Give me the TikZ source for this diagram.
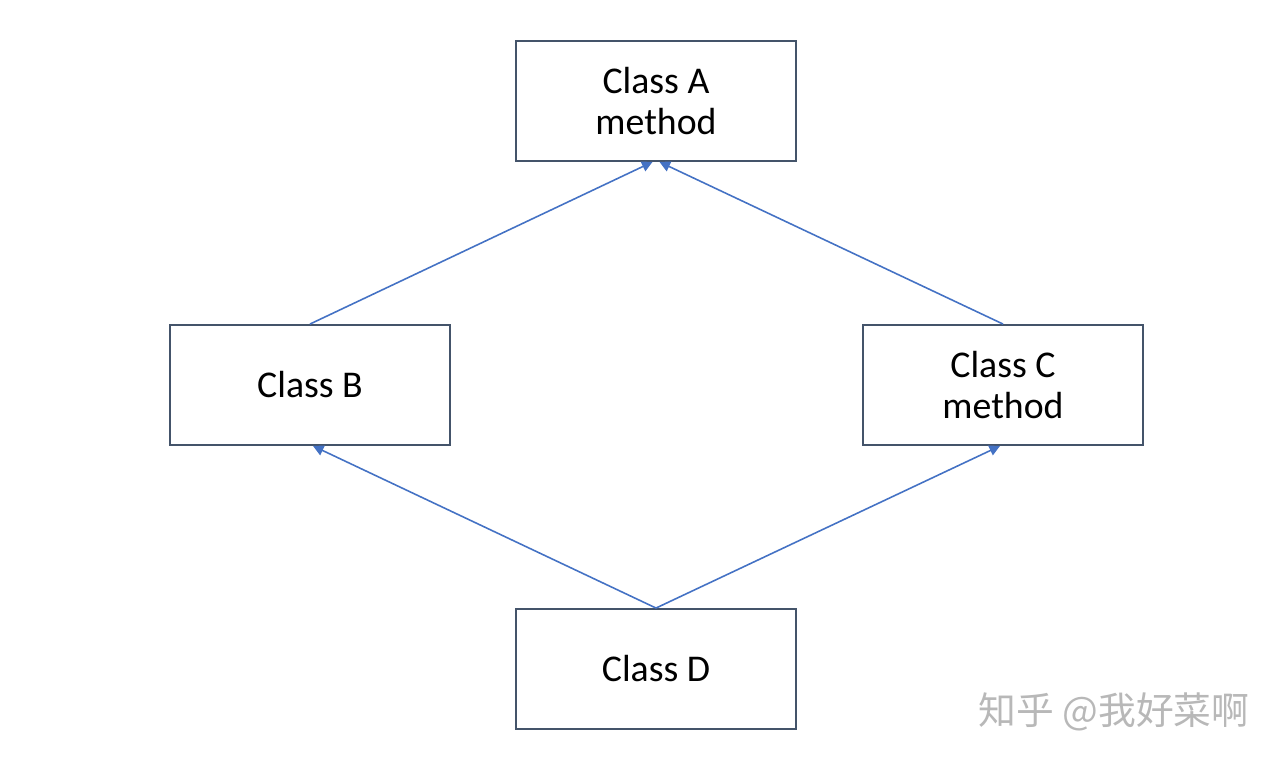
\documentclass[tikz,border=0pt]{standalone}
\usepackage{fontspec}
\setmainfont{Carlito}
\newfontfamily\cjk{Noto Sans CJK SC}
\definecolor{boxline}{HTML}{44546A}
\definecolor{arrowblue}{HTML}{4472C4}
\usetikzlibrary{arrows.meta}

\begin{document}
\begin{tikzpicture}
[
	x=0.02cm, y=-0.02cm,
	classbox/.style={rectangle,draw=boxline,line width=1.1pt,minimum width=5.6cm,minimum height=2.4cm,align=center,font=\fontsize{21.5}{23.5}\selectfont,inner sep=0pt},
	inherit/.style={-{Triangle[length=6pt,width=6pt]},arrowblue,line width=0.9pt}
]

	\useasboundingbox (0,0) rectangle (1284,764);

	% boxes
	\node[classbox] at (656,101) (A) {Class A\\method};
	\node[classbox] at (310,385) (B) {Class B};
	\node[classbox] at (1003,385) (C) {Class C\\method};
	\node[classbox] at (656,669) (D) {Class D};

	% arrows
	\draw[inherit] (B.north) -- ([xshift=-0.07cm]A.south);
	\draw[inherit] (C.north) -- ([xshift=0.07cm]A.south);
	\draw[inherit] (D.north) -- ([xshift=0.06cm]B.south);
	\draw[inherit] (D.north) -- ([xshift=-0.06cm]C.south);

	% watermark
	\node[font=\cjk\fontsize{21.5}{24}\selectfont,text=black!28] at (1114,712) (mark) {知乎 @我好菜啊};

\end{tikzpicture}
\end{document}
